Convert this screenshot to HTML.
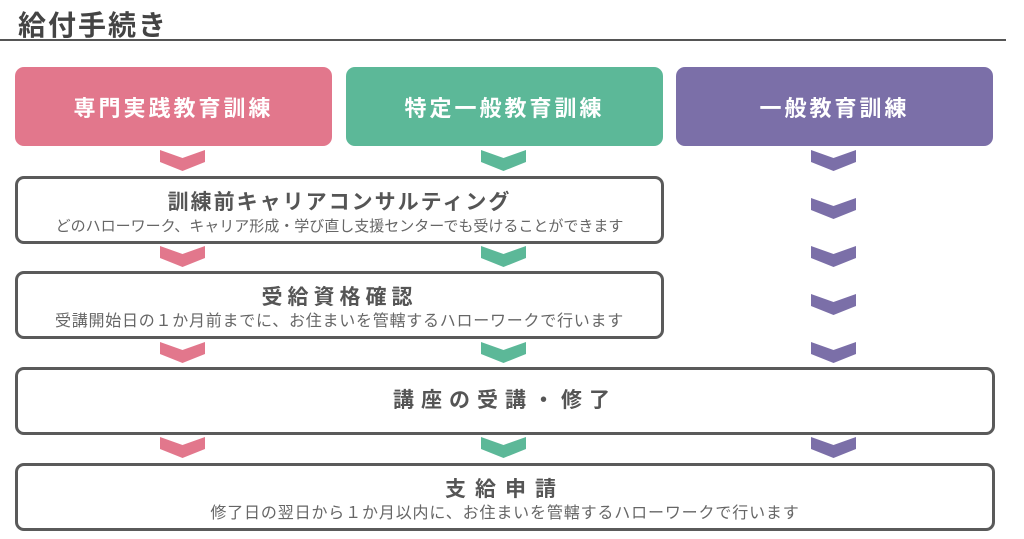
<!DOCTYPE html>
<html><head><meta charset="utf-8"><style>
body{margin:0;width:1024px;height:539px;background:#fff;position:relative;overflow:hidden;font-family:"Liberation Sans","Noto Sans CJK JP",sans-serif;}
.a{position:absolute;box-sizing:border-box;}
.h{border-radius:9px;color:#fff;font-weight:bold;font-size:22px;letter-spacing:3px;display:flex;align-items:center;justify-content:center;}
.b{border:3px solid #5a5a5a;border-radius:9px;background:#fff;text-align:center;color:#555;}
.t{font-weight:bold;font-size:21px;letter-spacing:1px;line-height:26px;}
.s{font-size:15px;color:#666;line-height:20px;}
svg.c{position:absolute;width:45px;height:22px;}
</style></head><body>
<div class="a" style="left:18px;top:4px;font-size:28px;font-weight:bold;color:#444;letter-spacing:2px;">給付手続き</div>
<div class="a" style="left:0;top:39px;width:1006px;height:2px;background:#555;"></div>

<div class="a h" style="left:15px;top:67px;width:317px;height:79px;background:#e2778c;">専門実践教育訓練</div>
<div class="a h" style="left:346px;top:67px;width:317px;height:79px;background:#5cb898;">特定一般教育訓練</div>
<div class="a h" style="left:676px;top:67px;width:317px;height:79px;background:#7b6fa8;">一般教育訓練</div>

<div class="a b" style="left:15px;top:176px;width:649px;height:68px;"><div class="t" style="margin-top:11px;letter-spacing:2px;">訓練前キャリアコンサルティング</div><div class="s" style="margin-top:1px;">どのハローワーク、キャリア形成・学び直し支援センターでも受けることができます</div></div>
<div class="a b" style="left:15px;top:271px;width:649px;height:68px;"><div class="t" style="margin-top:11px;letter-spacing:5px;">受給資格確認</div><div class="s" style="margin-top:1px;font-size:16px;letter-spacing:0.75px;">受講開始日の１か月前までに、お住まいを管轄するハローワークで行います</div></div>
<div class="a b" style="left:15px;top:367px;width:980px;height:68px;display:flex;align-items:center;justify-content:center;"><div class="t" style="letter-spacing:7px;">講座の受講・修了</div></div>
<div class="a b" style="left:15px;top:463px;width:980px;height:68px;"><div class="t" style="margin-top:11px;letter-spacing:9px;">支給申請</div><div class="s" style="margin-top:1px;font-size:16px;letter-spacing:0.85px;">修了日の翌日から１か月以内に、お住まいを管轄するハローワークで行います</div></div>

<svg width="0" height="0" style="position:absolute"><defs><path id="ch" d="M0 0 L22.5 8 L45 0 L45 12 L22.5 21 L0 12 Z"/></defs></svg>
<svg class="c" style="left:160px;top:150px"><use href="#ch" fill="#e2778c"/></svg>
<svg class="c" style="left:160px;top:246px"><use href="#ch" fill="#e2778c"/></svg>
<svg class="c" style="left:160px;top:342px"><use href="#ch" fill="#e2778c"/></svg>
<svg class="c" style="left:160px;top:437px"><use href="#ch" fill="#e2778c"/></svg>
<svg class="c" style="left:481px;top:150px"><use href="#ch" fill="#5cb898"/></svg>
<svg class="c" style="left:481px;top:246px"><use href="#ch" fill="#5cb898"/></svg>
<svg class="c" style="left:481px;top:342px"><use href="#ch" fill="#5cb898"/></svg>
<svg class="c" style="left:481px;top:437px"><use href="#ch" fill="#5cb898"/></svg>
<svg class="c" style="left:811px;top:150px"><use href="#ch" fill="#7b6fa8"/></svg>
<svg class="c" style="left:811px;top:198px"><use href="#ch" fill="#7b6fa8"/></svg>
<svg class="c" style="left:811px;top:246px"><use href="#ch" fill="#7b6fa8"/></svg>
<svg class="c" style="left:811px;top:294px"><use href="#ch" fill="#7b6fa8"/></svg>
<svg class="c" style="left:811px;top:342px"><use href="#ch" fill="#7b6fa8"/></svg>
<svg class="c" style="left:811px;top:437px"><use href="#ch" fill="#7b6fa8"/></svg>
</body></html>
